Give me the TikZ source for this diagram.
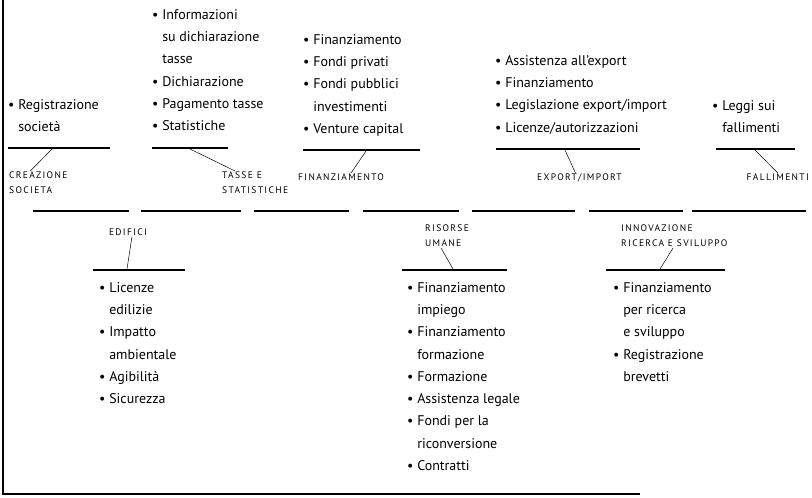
\documentclass[tikz,border=0pt]{standalone}
\usepackage{fontspec}
\setmainfont{PT Sans}
\newfontfamily\capsfont[LetterSpace=14]{PT Sans}
\usetikzlibrary{positioning,calc}

\newcommand{\itm}{\textbullet\ }
\newcommand{\cnt}{\phantom{\textbullet\ }}

\begin{document}
\begin{tikzpicture}[x=1pt, y=-1pt,
  lst/.style={anchor=north west, inner sep=0pt, align=left, font=\fontsize{14}{22.3}\selectfont},
  lbl/.style={inner sep=1pt, align=left, font=\capsfont\fontsize{9.5}{15}\selectfont},
  uline/.style={line width=1.2pt},
  link/.style={line width=0.5pt},
  spine/.style={line width=2.6pt}]
  \useasboundingbox (0,0) rectangle (812,498);

  % frame
  \draw[line width=1.5pt] (3,0) -- (3,494) -- (640,494);

  % central spine
  \foreach \a/\b in {33/129,141/241,254/349,363/459,472/575,589/683,692/806}{
    \draw[spine] (\a,211) -- (\b,211);
  }

  % upper groups
  \node[lst] (crList) at (8,99) {\itm Registrazione\\\cnt società};
  \draw[uline] (8,148) -- (110,148);
  \coordinate (crFoot) at (53,148);
  \node[lbl, anchor=north west] (crLbl) at (8,171) {CREAZIONE\\SOCIETA};
  \draw[link] (crFoot) -- ([xshift=-8pt]crLbl.north);

  \node[lst] (tsList) at (152,9) {\itm Informazioni\\\cnt su dichiarazione\\\cnt tasse\\\itm Dichiarazione\\\itm Pagamento tasse\\\itm Statistiche};
  \draw[uline] (152,148) -- (228,148);
  \coordinate (tsFoot) at (190,149);
  \node[lbl, anchor=north west] (tsLbl) at (221,171) {TASSE E\\STATISTICHE};
  \draw[link] (tsFoot) -- ([xshift=14pt]tsLbl.north west);

  \node[lst] (fnList) at (303,34) {\itm Finanziamento\\\itm Fondi privati\\\itm Fondi pubblici\\\cnt investimenti\\\itm Venture capital};
  \draw[uline] (303,150) -- (420,150);
  \coordinate (fnFoot) at (366,151);
  \node[lbl, anchor=north west] (fnLbl) at (297,173) {FINANZIAMENTO};
  \draw[link] (fnFoot) -- ([xshift=10pt]fnLbl.north);

  \node[lst] (exList) at (495,55) {\itm Assistenza all'export\\\itm Finanziamento\\\itm Legislazione export/import\\\itm Licenze/autorizzazioni};
  \draw[uline] (496,149) -- (640,149);
  \coordinate (exFoot) at (565,150);
  \node[lbl, anchor=north west] (exLbl) at (536,173) {EXPORT/IMPORT};
  \draw[link] (exFoot) -- ([xshift=-4pt]exLbl.north);

  \node[lst] (faList) at (712,100) {\itm Leggi sui\\\cnt fallimenti};
  \draw[uline] (716,149) -- (795,149);
  \coordinate (faFoot) at (755,150);
  \node[lbl, anchor=north east] (faLbl) at (810,173) {FALLIMENTI};
  \draw[link] (faFoot) -- (faLbl.north);

  % lower groups
  \node[lbl, anchor=center] (edLbl) at (128,232) {EDIFICI};
  \draw[uline] (93,270) -- (185,270);
  \coordinate (edFoot) at (127,269);
  \draw[link] ([xshift=4pt]edLbl.south) -- (edFoot);
  \node[lst] (edList) at (99,282) {\itm Licenze\\\cnt edilizie\\\itm Impatto\\\cnt ambientale\\\itm Agibilità\\\itm Sicurezza};

  \node[lbl, anchor=west] (ruLbl) at (424,236) {RISORSE\\UMANE};
  \draw[uline] (402,270) -- (507,270);
  \coordinate (ruFoot) at (453,269);
  \draw[link] ([xshift=-6pt]ruLbl.south) -- (ruFoot);
  \node[lst] (ruList) at (407,282) {\itm Finanziamento\\\cnt impiego\\\itm Finanziamento\\\cnt formazione\\\itm Formazione\\\itm Assistenza legale\\\itm Fondi per la\\\cnt riconversione\\\itm Contratti};

  \node[lbl, anchor=west] (isLbl) at (620,236) {INNOVAZIONE\\RICERCA E SVILUPPO};
  \draw[uline] (606,270) -- (725,270);
  \coordinate (isFoot) at (660,269);
  \draw[link] ([xshift=53pt]isLbl.south west) -- (isFoot);
  \node[lst] (isList) at (613,282) {\itm Finanziamento\\\cnt per ricerca\\\cnt e sviluppo\\\itm Registrazione\\\cnt brevetti};
\end{tikzpicture}
\end{document}
